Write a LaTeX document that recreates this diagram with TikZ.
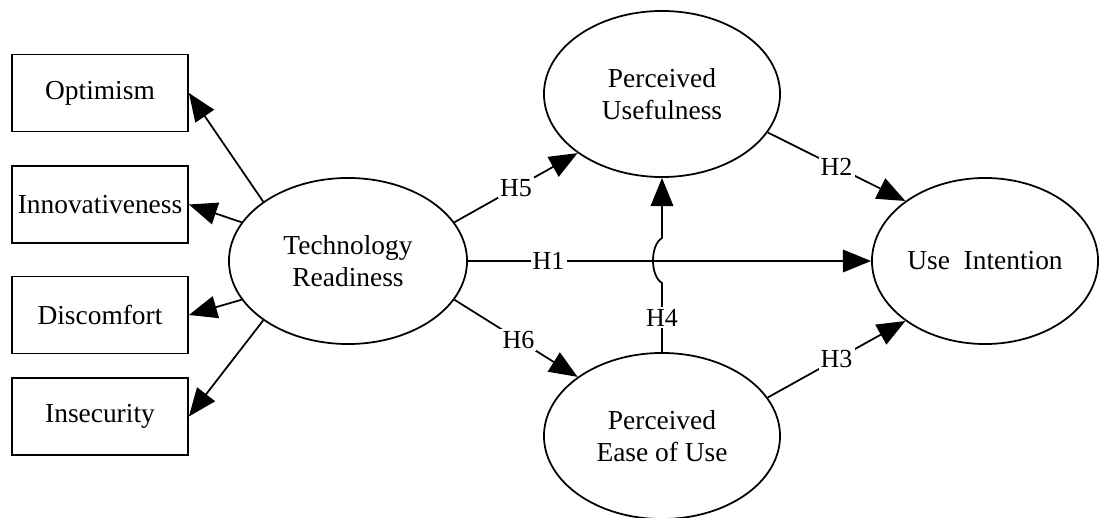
\documentclass[tikz,border=0pt]{standalone}
\usepackage{fontspec}
\setmainfont{Liberation Serif}
\usetikzlibrary{shapes.geometric,arrows.meta}
\begin{document}
\begin{tikzpicture}[x=0.025cm,y=-0.025cm,
    box/.style={draw,line width=1.25pt,minimum width=4.4cm,minimum height=1.925cm,inner sep=0pt,font=\fontsize{19.5}{23}\selectfont},
    latent/.style={ellipse,draw,line width=1.25pt,minimum width=5.9cm,minimum height=4.15cm,inner sep=0pt,align=center,font=\fontsize{19.5}{23}\selectfont},
    link/.style={line width=1.25pt,-{Triangle[length=20pt,width=16pt]}},
    hyp/.style={fill=white,inner sep=1.5pt,font=\fontsize{18.5}{20}\selectfont}]
    \useasboundingbox (0,0) rectangle (1099,518);

    % Indicator boxes
    \node[box] (opt) at (100,93) {Optimism};
    \node[box] (inn) at (100,204.5) {Innovativeness};
    \node[box] (dis) at (100,315) {Discomfort};
    \node[box] (ins) at (100,416.5) {Insecurity};

    % Latent constructs
    \node[latent,minimum width=5.95cm] (tr) at (348,261) {Technology\\Readiness};
    \node[latent] (pu) at (662,94) {Perceived\\Usefulness};
    \node[latent] (peu) at (662,436) {Perceived\\Ease of Use};
    \node[latent,minimum width=5.65cm] (ui) at (985,261) {Use\ \ Intention};

    % Readiness dimensions
    \draw[link] (tr.145) -- (opt.east);
    \draw[link] (tr.160) -- (inn.east);
    \draw[link] (tr.200) -- (dis.east);
    \draw[link] (tr.215) -- (ins.east);

    % Hypotheses
    \draw[link] (tr.east) -- node[hyp,pos=0.2] {H1} (ui.west);
    \draw[link] (pu.340) -- node[hyp] {H2} (ui.143);
    \draw[link] (peu.20) -- node[hyp] {H3} (ui.217);
    \draw[link] (tr.20) -- node[hyp] {H5} (pu.215);
    \draw[link] (tr.-20) -- node[hyp,pos=0.52] {H6} (peu.145);

    % H4 jumps over H1
    \coordinate (jlo) at (662,283);
    \coordinate (jhi) at (662,238);
    \draw[link] (peu.north) -- node[hyp] {H4} (jlo)
        .. controls (650,276) and (650,245) .. (jhi) -- (pu.south);
\end{tikzpicture}
\end{document}
